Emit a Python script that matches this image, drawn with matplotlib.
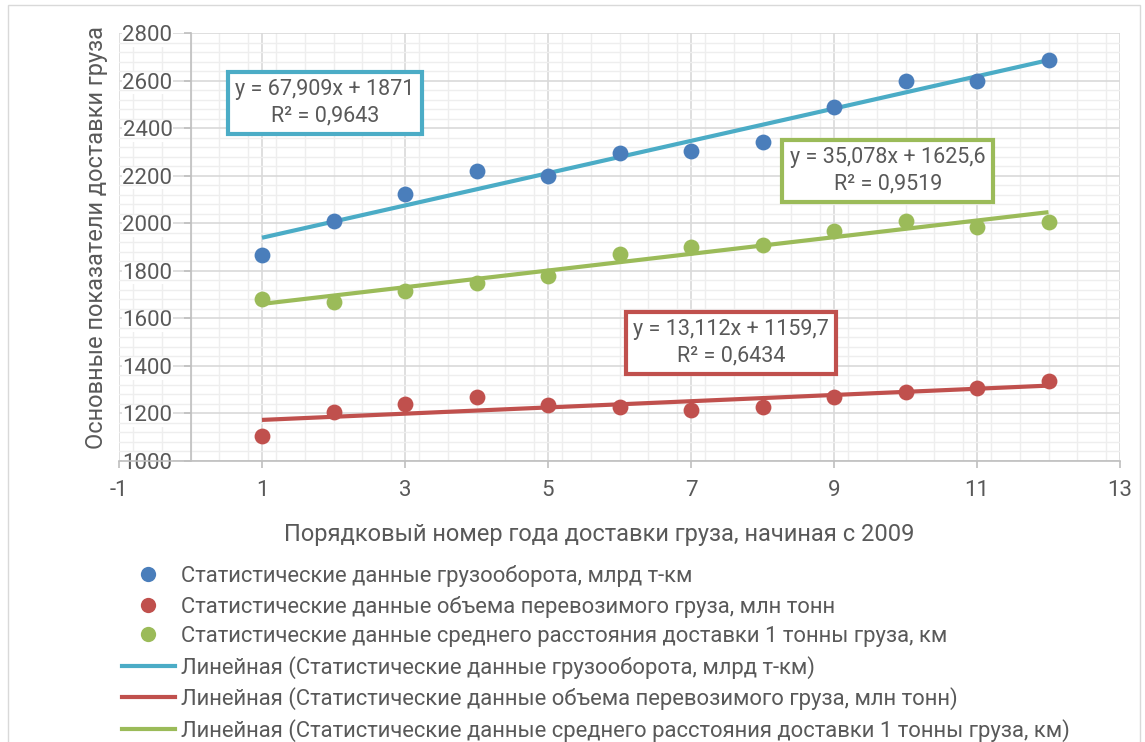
import numpy as np
import matplotlib
matplotlib.use("Agg")
from matplotlib import pyplot as plt
from matplotlib.lines import Line2D
from matplotlib.patches import Rectangle
from matplotlib.ticker import MultipleLocator

plt.rcParams['font.family'] = ['Roboto', 'DejaVu Sans']
plt.rcParams['axes.unicode_minus'] = False

# year index, starting with 2009
years = [1, 2, 3, 4, 5, 6, 7, 8, 9, 10, 11, 12]
turnover = [1865, 2010, 2125, 2220, 2197, 2295, 2305, 2340, 2490, 2597, 2600, 2685]
volume = [1107, 1205, 1240, 1270, 1235, 1228, 1215, 1227, 1268, 1290, 1308, 1338]
distance = [1682, 1670, 1713, 1748, 1777, 1870, 1898, 1910, 1968, 2010, 1985, 2005]

# trend equations as shown on the chart: (slope, intercept, r2)
trend_turnover = (67.909, 1871, 0.9643)
trend_volume = (13.112, 1159.7, 0.6434)
trend_distance = (35.078, 1625.6, 0.9519)

names = [
    "Статистические данные грузооборота, млрд т-км",
    "Статистические данные объема перевозимого груза, млн тонн",
    "Статистические данные среднего расстояния доставки 1 тонны груза, км",
]

dot_colors = ['#4a7ebb', '#c0504d', '#9bbb59']
line_colors = ['#4bacc6', '#c0504d', '#9bbb59']
txt = '#595959'

W, H = 1145, 742
fig = plt.figure(figsize=(W / 100, H / 100), dpi=100)


def fx(px):
    return px / W


def fy(py):
    return 1 - py / H


ax = fig.add_axes([fx(119), fy(461), fx(1120) - fx(119), fy(33) - fy(461)])
ax.set_xlim(-1, 13)
ax.set_ylim(1000, 2800)

ax.xaxis.set_minor_locator(MultipleLocator(0.4))
ax.yaxis.set_major_locator(MultipleLocator(200))
ax.yaxis.set_minor_locator(MultipleLocator(40))
ax.set_xticks(np.arange(-1, 14, 2))
ax.grid(which='major', color='#d9d9d9', lw=1.2, zorder=0)
ax.grid(which='minor', color='#eeeeee', lw=1.0, zorder=0)
ax.set_axisbelow(True)

for s in ['top', 'right']:
    ax.spines[s].set_visible(False)
ax.spines['left'].set_position(('data', 0))
for s in ['left', 'bottom']:
    ax.spines[s].set_color('#bfbfbf')
    ax.spines[s].set_linewidth(1.2)
ax.tick_params(which='minor', length=0)
ax.tick_params(which='major', color='#bfbfbf', length=5, width=1.2,
               labelsize=16, labelcolor=txt)
ax.tick_params(axis='y', pad=8)
ax.tick_params(axis='x', pad=9)
for lab in ax.get_yticklabels():
    lab.set_bbox(dict(facecolor='white', edgecolor='none', pad=0.5))

x = np.array(years)
series = [turnover, volume, distance]
trends = [trend_turnover, trend_volume, trend_distance]

for (k, b, r2), c in zip(trends, line_colors):
    ax.plot(x, k * x + b, color=c, lw=3, solid_capstyle='butt', zorder=3)
for vals, c in zip(series, dot_colors):
    ax.scatter(x, vals, s=130, color=c, zorder=4, linewidths=0)


def eq_text(k, b, r2):
    def num(v):
        return ('%g' % v).replace('.', ',')
    return 'y = %sx + %s\nR² = %s' % (num(k), num(b), num(r2))


box_pos = [(1.88, 2506), (7.56, 1496), (9.75, 2220)]
for (k, b, r2), c, (bx, by) in zip(trends, line_colors, box_pos):
    ax.text(bx, by, eq_text(k, b, r2), ha='center', va='center', fontsize=15.5,
            color=txt, linespacing=1.35, zorder=5,
            bbox=dict(boxstyle='square,pad=0.35', facecolor='white',
                      edgecolor=c, lw=3))

fig.text(fx(599), fy(534), "Порядковый номер года доставки груза, начиная с 2009",
         ha='center', va='center', fontsize=17, color=txt)
fig.text(fx(97), fy(237), "Основные показатели доставки груза",
         ha='center', va='center', rotation=90, fontsize=17, color=txt)

handles = [Line2D([], [], ls='none', marker='o', ms=11, mec='none', color=c)
           for c in dot_colors]
handles += [Line2D([], [], color=c, lw=3) for c in line_colors]
labels = names + ["Линейная (%s)" % n for n in names]
fig.legend(handles, labels, loc='upper left', bbox_to_anchor=(fx(122), fy(565)),
           frameon=False, fontsize=15.8, labelcolor=txt, handlelength=2.4,
           handletextpad=0.3, labelspacing=0.39, borderaxespad=0, borderpad=0)

fig.patches.append(Rectangle((fx(8), fy(745)), fx(1140) - fx(8), fy(5) - fy(745),
                             transform=fig.transFigure, fill=False,
                             edgecolor='#d9d9d9', lw=1))

fig.savefig('out.png', dpi=100)
